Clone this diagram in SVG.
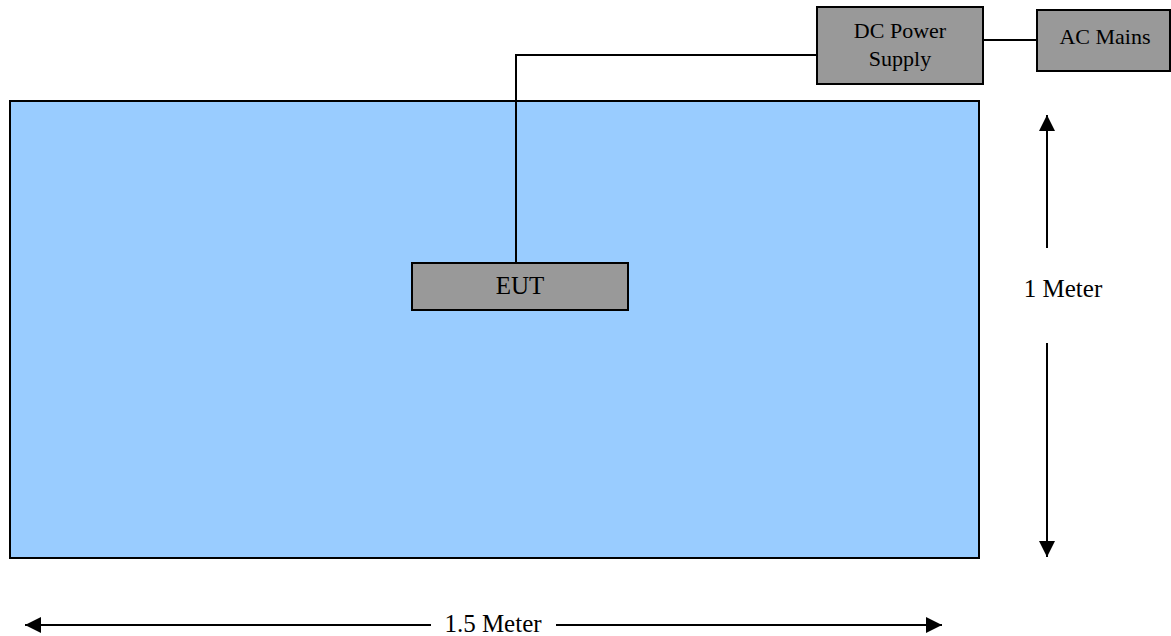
<svg xmlns="http://www.w3.org/2000/svg" width="1171" height="636" viewBox="0 0 1171 636">
<style>
.box{fill:#999999;stroke:#000;stroke-width:2}
.t{font-family:"Liberation Serif",serif;fill:#000;text-anchor:middle}
.s23{font-size:22px}
.s26{font-size:25px}
.ln{stroke:#000;stroke-width:2;fill:none}
</style>
<defs>
<marker id="ah" viewBox="0 0 10 10" refX="10" refY="5" markerWidth="16" markerHeight="16" markerUnits="userSpaceOnUse" orient="auto">
<path d="M0,0 L10,5 L0,10 Z" fill="#000"/>
</marker>
</defs>
<g id="table"><rect x="10" y="101" width="969" height="457" fill="#99CCFF" stroke="#000" stroke-width="2"/></g>
<g id="connectors">
<polyline class="ln" points="516,263 516,55 817,55"/>
<line class="ln" x1="983" y1="40" x2="1037" y2="40"/>
<line class="ln" x1="1047" y1="248" x2="1047" y2="115" marker-end="url(#ah)"/>
<line class="ln" x1="1047" y1="343" x2="1047" y2="557" marker-end="url(#ah)"/>
<line class="ln" x1="431" y1="625" x2="25" y2="625" marker-end="url(#ah)"/>
<line class="ln" x1="556" y1="625" x2="942" y2="625" marker-end="url(#ah)"/>
</g>
<g id="dc"><rect class="box" x="817" y="7" width="166" height="77"/><text class="t s23" x="900" y="38">DC Power</text><text class="t s23" x="900" y="66">Supply</text></g>
<g id="ac"><rect class="box" x="1037" y="10" width="133" height="61"/><text class="t s23" x="1105" y="44">AC Mains</text></g>
<g id="eut"><rect class="box" x="412" y="263" width="216" height="47"/><text class="t s26" x="520" y="294">EUT</text></g>
<g id="lbl1"><text class="t s26" x="1063" y="297">1 Meter</text></g>
<g id="lbl2"><text class="t s26" x="493" y="632">1.5 Meter</text></g>
</svg>
